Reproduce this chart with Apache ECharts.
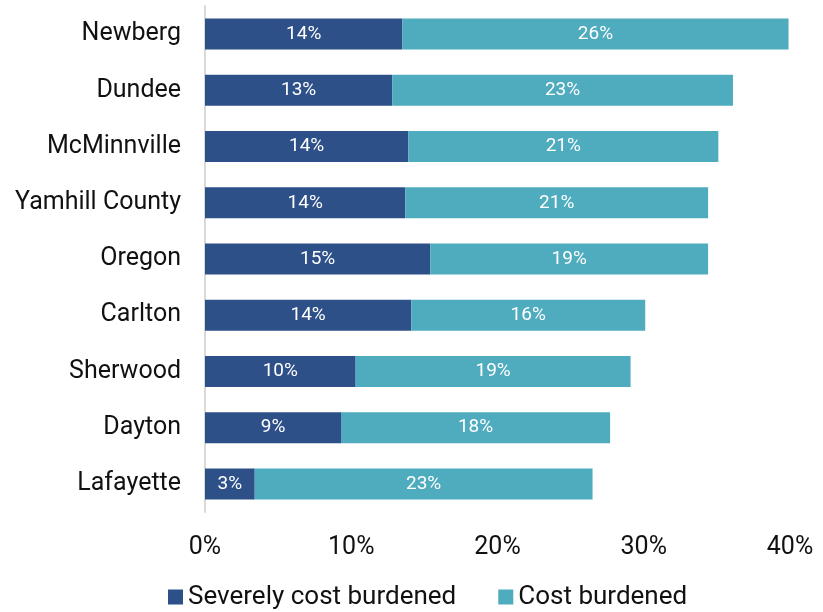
<!DOCTYPE html>
<html>
<head>
<meta charset="utf-8">
<script src="https://cdn.jsdelivr.net/npm/echarts@6/dist/echarts.min.js"></script>
<style>
  html, body { margin: 0; padding: 0; background: #fff; }
  #chart { width: 823px; height: 612px; }
</style>
</head>
<body>
<div id="chart"></div>
<script>
// categories from top to bottom as shown
const places = ['Newberg', 'Dundee', 'McMinnville', 'Yamhill County', 'Oregon', 'Carlton', 'Sherwood', 'Dayton', 'Lafayette']
const severe = [13.5, 12.8, 13.9, 13.7, 15.4, 14.1, 10.3, 9.3, 3.4]
const burdened = [26.4, 23.3, 21.2, 20.7, 19.0, 16.0, 18.8, 18.4, 23.1]
const seriesNames = ['Severely cost burdened', 'Cost burdened']

const font = 'Roboto'
const chart = echarts.init(document.getElementById('chart'))

const barLabel = {
  show: true,
  position: 'inside',
  color: '#fff',
  fontSize: 19,
  fontFamily: font,
  formatter: p => Math.round(p.value) + '%'
}

chart.setOption({
  animation: false,
  grid: { left: 205, right: 33, top: 6, bottom: 100 },
  legend: {
    bottom: -3,
    left: 163,
    itemWidth: 15,
    itemHeight: 15,
    itemGap: 42,
    icon: 'rect',
    textStyle: { fontSize: 26, fontFamily: font, color: '#111' },
    data: seriesNames
  },
  xAxis: {
    type: 'value',
    min: 0,
    max: 40,
    interval: 10,
    splitLine: { show: false },
    axisLine: { show: false },
    axisTick: { show: false },
    axisLabel: { formatter: '{value}%', fontSize: 25, fontFamily: font, color: '#111', margin: 23 }
  },
  yAxis: {
    type: 'category',
    inverse: true,
    data: places,
    axisLine: { show: true, lineStyle: { color: '#d9d9d9', width: 2 } },
    axisTick: { show: false },
    axisLabel: { fontSize: 25, fontFamily: font, color: '#111', margin: 24, padding: [3, 0, 0, 0] }
  },
  series: [
    {
      name: seriesNames[0],
      type: 'bar',
      stack: 'total',
      barWidth: 31,
      data: severe,
      itemStyle: { color: '#2E5089' },
      label: barLabel
    },
    {
      name: seriesNames[1],
      type: 'bar',
      stack: 'total',
      barWidth: 31,
      data: burdened,
      itemStyle: { color: '#4FABBE' },
      label: barLabel
    }
  ]
})
</script>
</body>
</html>
